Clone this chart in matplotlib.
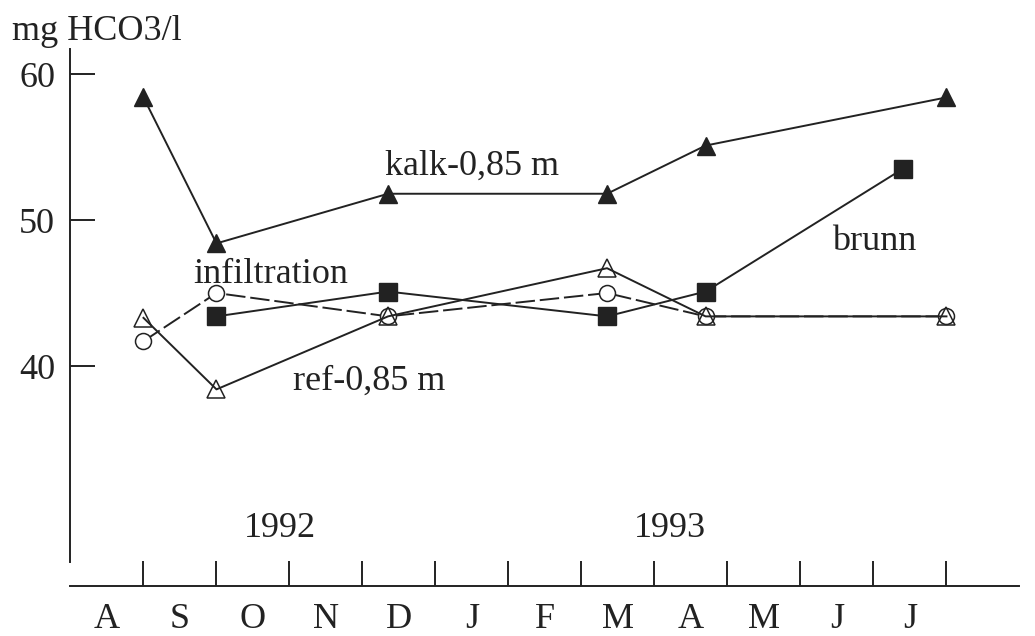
import matplotlib
matplotlib.use("Agg")
import matplotlib.pyplot as plt

# month letters along the time axis (Aug 1992 - Jul 1993)
months = ["A", "S", "O", "N", "D", "J", "F", "M", "A", "M", "J", "J"]
month_centres = [i + 0.5 for i in range(len(months))]
month_bounds = list(range(1, 13))

# sampling dates, in months since 1 Aug 1992
dates = [1.0, 2.0, 4.35, 7.35, 8.7, 12.0]
brunn_dates = [2.0, 4.35, 7.35, 8.7, 11.4]

# mg HCO3/l
kalk = [58.4, 48.4, 51.8, 51.8, 55.1, 58.4]
brunn = [43.4, 45.1, 43.4, 45.1, 53.5]
infiltration = [41.7, 45.0, 43.4, 45.0, 43.4, 43.4]
ref = [43.3, 38.4, 43.4, 46.7, 43.4, 43.4]

ink = "#222222"
plt.rcParams["font.family"] = ["Liberation Serif", "DejaVu Serif"]
plt.rcParams["font.size"] = 26

fig = plt.figure(figsize=(10.35, 6.36), dpi=100)
ax = fig.add_axes([0.0681, 0.0786, 0.9169, 0.8440])
ax.set_xlim(0, 13)
ax.set_ylim(24.93, 61.7)

lw = 1.4
ax.plot(dates, kalk, color=ink, lw=lw, marker="^", ms=13.5,
        mfc=ink, mec=ink, zorder=3)
ax.plot(brunn_dates, brunn, color=ink, lw=lw, marker="s", ms=13.5,
        mfc=ink, mec=ink, zorder=3)
ax.plot(dates, infiltration, color=ink, lw=lw, linestyle=(0, (10, 2.5)),
        marker="o", ms=11.5, mfc="white", mec=ink, mew=1.1, zorder=4)
ax.plot(dates, ref, color=ink, lw=lw, marker="^", ms=12.5,
        mfc="none", mec=ink, mew=1.1, zorder=5)

# series names written next to the curves
ax.text(4.31, 53.08, "kalk-0,85 m", color=ink, va="baseline")
ax.text(1.68, 45.68, "infiltration", color=ink, va="baseline")
ax.text(3.05, 38.36, "ref-0,85 m", color=ink, va="baseline")
ax.text(10.43, 47.95, "brunn", color=ink, va="baseline")
ax.text(2.87, 28.29, "1992", color=ink, va="baseline", ha="center")
ax.text(8.21, 28.29, "1993", color=ink, va="baseline", ha="center")
ax.text(-0.8, 62.33, "mg HCO3/l", color=ink, va="baseline", clip_on=False)

for side in ["top", "right"]:
    ax.spines[side].set_visible(False)
ax.spines["left"].set_bounds(26.6, 61.7)
ax.spines["bottom"].set_bounds(0, 13)
for side in ["left", "bottom"]:
    ax.spines[side].set_color(ink)
    ax.spines[side].set_linewidth(1.4)

ax.set_yticks([40, 50, 60])
ax.tick_params(axis="y", direction="in", length=18, width=1.4,
               color=ink, labelcolor=ink, pad=11)
ax.set_xticks(month_bounds, labels=[""] * len(month_bounds))
ax.set_xticks(month_centres, labels=months, minor=True)
ax.tick_params(axis="x", which="major", direction="in", length=18,
               width=1.4, color=ink)
ax.tick_params(axis="x", which="minor", length=0, pad=12, labelcolor=ink)

fig.savefig("out.png", dpi=100)
